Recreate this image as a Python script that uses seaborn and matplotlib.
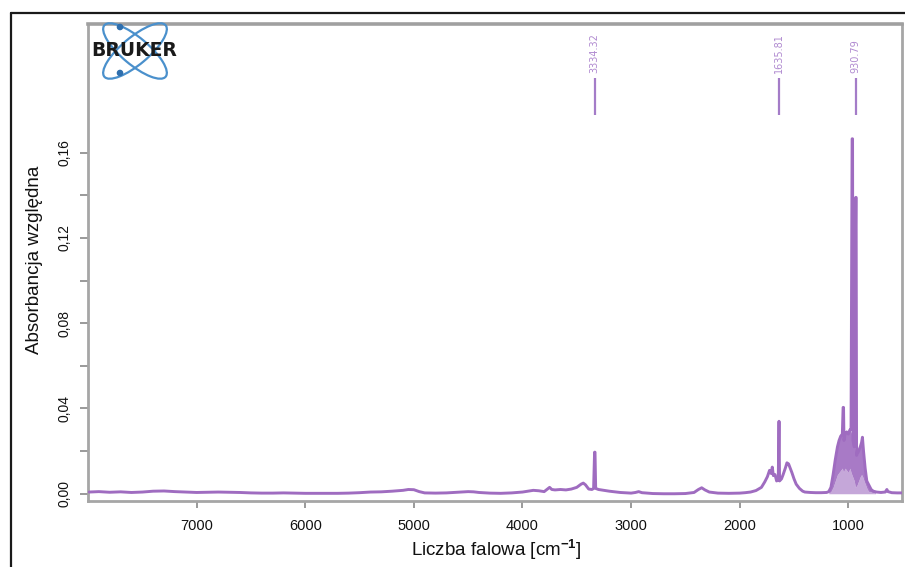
import matplotlib
matplotlib.use("Agg")
import matplotlib.pyplot as plt
import seaborn as sns
import pandas as pd
from matplotlib.patches import Ellipse, Circle
from matplotlib.lines import Line2D
from matplotlib.transforms import IdentityTransform
from matplotlib.ticker import FixedLocator, FixedFormatter

# ---------------- data ----------------
wavenumber = [7990, 7900, 7800, 7700, 7600, 7500, 7400, 7300, 7200, 7100, 7000,
              6900, 6800, 6700, 6600, 6500, 6400, 6300, 6200, 6100, 6000,
              5900, 5800, 5700, 5600, 5500, 5400, 5300, 5200, 5100, 5050, 5000,
              4950, 4900, 4800, 4700, 4600, 4500, 4450, 4400, 4300, 4200, 4100,
              4000, 3950, 3900, 3850, 3800, 3770, 3750, 3730, 3700, 3650, 3600,
              3550, 3500, 3460, 3440, 3420, 3390, 3360, 3345, 3336, 3332, 3326,
              3300, 3250, 3200, 3100, 3000, 2960, 2930, 2900, 2800, 2700, 2600,
              2500, 2420, 2380, 2350, 2320, 2280, 2200, 2100, 2000, 1950, 1900,
              1850, 1800, 1770, 1745, 1725, 1710, 1700, 1690, 1675, 1660, 1645,
              1638, 1633, 1615, 1600, 1580, 1565, 1550, 1535, 1520, 1500, 1480,
              1450, 1420, 1400, 1350, 1300, 1250, 1200, 1180, 1160, 1140, 1120,
              1100, 1085, 1070, 1055, 1048, 1044, 1040, 1030, 1015, 1000, 985,
              975, 965, 961, 957, 945, 932, 928, 924, 905, 890, 878, 870, 860,
              845, 830, 810, 790, 770, 740, 700, 660, 645, 635, 600, 550, 505]
absorbance = [0.0008, 0.0010, 0.0007, 0.0009, 0.0006, 0.0008, 0.0012, 0.0013, 0.0010, 0.0008, 0.0006,
              0.0007, 0.0008, 0.0007, 0.0006, 0.0004, 0.0003, 0.0003, 0.0004, 0.0003, 0.0002,
              0.0002, 0.0002, 0.0002, 0.0003, 0.0005, 0.0008, 0.0009, 0.0012, 0.0016, 0.0020, 0.0019,
              0.0010, 0.0004, 0.0003, 0.0004, 0.0007, 0.0010, 0.0009, 0.0006, 0.0003, 0.0002, 0.0004,
              0.0008, 0.0012, 0.0016, 0.0014, 0.0010, 0.0022, 0.0030, 0.0020, 0.0018, 0.0020, 0.0018,
              0.0022, 0.0030, 0.0045, 0.0050, 0.0042, 0.0022, 0.0020, 0.0025, 0.0195, 0.0195, 0.0025,
              0.0020, 0.0016, 0.0012, 0.0006, 0.0003, 0.0006, 0.0010, 0.0005, 0.0001, 0.0000, 0.0000,
              0.0001, 0.0006, 0.0020, 0.0028, 0.0018, 0.0008, 0.0003, 0.0002, 0.0003, 0.0005, 0.0008,
              0.0015, 0.0030, 0.0055, 0.0080, 0.0110, 0.0095, 0.0125, 0.0085, 0.0090, 0.0060, 0.0065,
              0.0340, 0.0060, 0.0070, 0.0090, 0.0120, 0.0145, 0.0140, 0.0120, 0.0100, 0.0070, 0.0045,
              0.0025, 0.0012, 0.0008, 0.0006, 0.0005, 0.0005, 0.0006, 0.0010, 0.0030, 0.0090, 0.0160,
              0.0220, 0.0250, 0.0270, 0.0280, 0.0405, 0.0405, 0.0250, 0.0280, 0.0290, 0.0280, 0.0300,
              0.0300, 0.1665, 0.1665, 0.0250, 0.0220, 0.1390, 0.1390, 0.0180, 0.0200, 0.0220, 0.0240, 0.0265, 0.0200,
              0.0120, 0.0060, 0.0040, 0.0020, 0.0012, 0.0008, 0.0006, 0.0008, 0.0020, 0.0010, 0.0005, 0.0004, 0.0004]

# dense, unresolved band region (upper / lower envelope of the trace)
band_wn = [1180, 1160, 1140, 1120, 1100, 1085, 1070, 1055, 1045, 1030, 1015, 1000,
           985, 975, 960, 945, 935, 920, 905, 890, 878, 868, 855, 840, 825, 810,
           790, 770, 750]
band_high = [0.0008, 0.003, 0.009, 0.016, 0.022, 0.025, 0.027, 0.028, 0.029, 0.028, 0.029, 0.028,
             0.030, 0.029, 0.027, 0.022, 0.020, 0.018, 0.020, 0.022, 0.024, 0.025, 0.018, 0.010,
             0.006, 0.004, 0.002, 0.001, 0.0008]
band_low = [0.0003, 0.001, 0.003, 0.006, 0.009, 0.010, 0.011, 0.012, 0.010, 0.012, 0.011, 0.010,
            0.012, 0.010, 0.008, 0.006, 0.003, 0.004, 0.006, 0.008, 0.009, 0.008, 0.006, 0.004,
            0.002, 0.001, 0.0008, 0.0005, 0.0003]

peak_positions = [3334.32, 1635.81, 930.79]
peak_labels = ["3334.32", "1635.81", "930.79"]

x_ticks = [7000, 6000, 5000, 4000, 3000, 2000, 1000]
x_tick_labels = ["7000", "6000", "5000", "4000", "3000", "2000", "1000"]
y_ticks = [0.00, 0.04, 0.08, 0.12, 0.16]
y_tick_labels = ["0,00", "0,04", "0,08", "0,12", "0,16"]
y_minor_ticks = [0.02, 0.06, 0.10, 0.14]

x_label = "Liczba falowa [cm$^{\\mathbf{-1}}$]"
y_label = "Absorbancja względna"

# ---------------- style ----------------
sns.set_theme(style="white")
plt.rcParams["font.family"] = ["Liberation Sans", "DejaVu Sans"]
plt.rcParams["mathtext.fontset"] = "custom"
plt.rcParams["mathtext.rm"] = "Liberation Sans"
plt.rcParams["mathtext.bf"] = "Liberation Sans:bold"

W, H = 905, 567
fig = plt.figure(figsize=(W / 100, H / 100), dpi=100)
fig.patch.set_facecolor("white")
ax = fig.add_axes([88.3 / W, (H - 501) / H, (902.3 - 88.3) / W, (501 - 24.3) / H])

purple = "#9f6cc0"

df = pd.DataFrame({"wn": wavenumber, "A": absorbance})
ax.fill_between(band_wn, band_low, band_high, color=purple, alpha=0.9, lw=0, zorder=2)
ax.fill_between(band_wn, 0, band_low, color=purple, alpha=0.6, lw=0, zorder=2)
sns.lineplot(data=df, x="wn", y="A", ax=ax, color=purple, lw=2.1, sort=False,
             estimator=None, zorder=3)

# peak markers at top
ax.vlines(peak_positions, 0.1776, 0.1951, color="#a47cc8", lw=1.6, zorder=3)
for pos, lab in zip(peak_positions, peak_labels):
    ax.text(pos, 0.1975, lab, rotation=90, ha="center", va="bottom",
            fontsize=7, color="#b08ad0", family=["DejaVu Sans"])

ax.set_xlim(7997, 503)
ax.set_ylim(-0.0034, 0.2202)

ax.xaxis.set_major_locator(FixedLocator(x_ticks))
ax.xaxis.set_major_formatter(FixedFormatter(x_tick_labels))
ax.yaxis.set_major_locator(FixedLocator(y_ticks))
ax.yaxis.set_major_formatter(FixedFormatter(y_tick_labels))
ax.yaxis.set_minor_locator(FixedLocator(y_minor_ticks))

ax.tick_params(axis="x", which="major", direction="out", length=5, width=1.4,
               color="#9a9a9a", labelsize=10.5, pad=8, labelcolor="#111111",
               bottom=True)
ax.tick_params(axis="y", which="both", direction="out", length=6, width=1.4,
               color="#9a9a9a", labelsize=10, pad=6, labelcolor="#111111",
               left=True)
for lbl in ax.get_yticklabels():
    lbl.set_rotation(90)
    lbl.set_va("center")

for side in ["left", "bottom", "right"]:
    ax.spines[side].set_color("#a6a6a6")
    ax.spines[side].set_linewidth(2)
ax.spines["top"].set_color("#a0a0a0")
ax.spines["top"].set_linewidth(2.6)
for s in ax.spines.values():
    s.set_visible(True)

ax.set_xlabel(x_label, fontsize=13.5, color="#111111")
ax.set_ylabel(y_label, fontsize=13.5, color="#111111")
ax.xaxis.set_label_coords((496 - 88.3) / 814, (501 - 550) / 476.7)
ax.xaxis.label.set_va("center")
ax.yaxis.set_label_coords((35 - 88.3) / 814, (501 - 260) / 476.7)
ax.yaxis.label.set_va("center")

# outer frame lines
fig.add_artist(Line2D([11 / W, 11 / W], [0, 1 - 13.3 / H], color="#1a1a1a", lw=1.6))
fig.add_artist(Line2D([11 / W, 1], [1 - 13.3 / H, 1 - 13.3 / H], color="#1a1a1a", lw=1.6))

# Bruker logo (pixel coordinates)
tr = IdentityTransform()
blue = "#4a90cc"
cx, cy = 135, H - 51
for ang in (40, -40):
    fig.add_artist(Ellipse((cx, cy), 80, 27, angle=ang, fill=False, ec=blue, lw=1.6,
                           transform=tr))
for (px, py) in [(120, 27), (120, 73)]:
    fig.add_artist(Circle((px, H - py), 2.6, color="#2f6fae", transform=tr))
fig.text(134.5 / W, 1 - 50 / H, "BRUKER", ha="center", va="center", fontsize=13.5,
         fontweight="bold", color="#1a1a1a", family=["DejaVu Sans"])

fig.savefig("out.png", dpi=100)
